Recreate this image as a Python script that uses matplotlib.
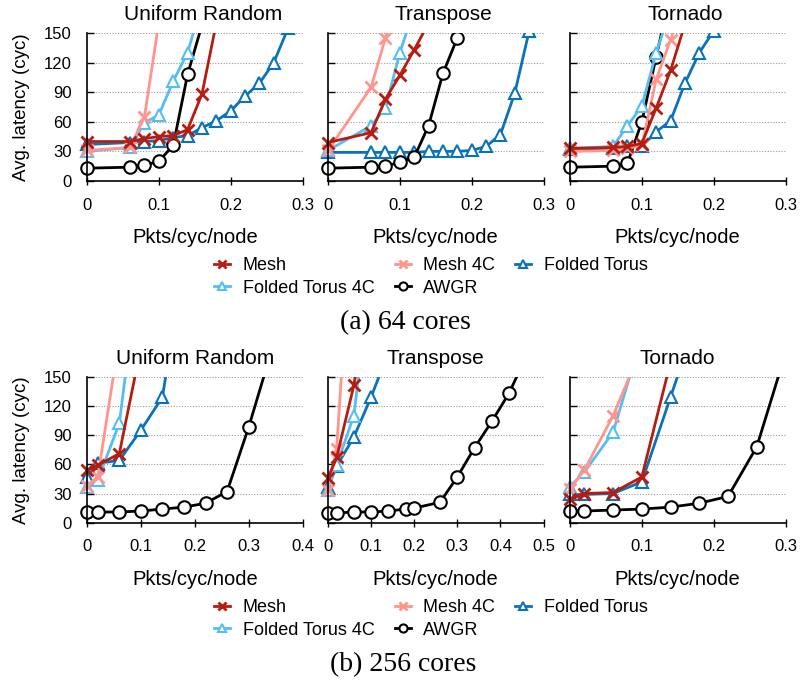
import matplotlib
matplotlib.use("Agg")
import matplotlib.pyplot as plt

plt.rcParams["font.family"] = ["Liberation Sans", "DejaVu Sans"]

SERIES = ["Mesh", "Mesh 4C", "Folded Torus", "Folded Torus 4C", "AWGR"]
PATTERNS = ["Uniform Random", "Transpose", "Tornado"]
YTICKS = [0, 30, 60, 90, 120, 150]

# ---- 64 cores ----
ur64_mesh_x = [0, 0.06, 0.08, 0.1, 0.12, 0.14, 0.16, 0.18]
ur64_mesh_y = [40, 40, 43, 45, 46, 52, 88, 160]
ur64_mesh4c_x = [0, 0.06, 0.08, 0.1]
ur64_mesh4c_y = [31, 34, 65, 161]
ur64_ft_x = [0, 0.06, 0.08, 0.1, 0.12, 0.14, 0.16, 0.18, 0.2, 0.22, 0.24, 0.26, 0.28]
ur64_ft_y = [37, 39, 40, 41, 44, 46, 54, 61, 71, 86, 99, 120, 155]
ur64_ft4c_x = [0, 0.06, 0.08, 0.1, 0.12, 0.14, 0.16]
ur64_ft4c_y = [30, 34, 59, 67, 101, 130, 180]
ur64_awgr_x = [0, 0.06, 0.08, 0.1, 0.12, 0.14, 0.16]
ur64_awgr_y = [13, 14, 16, 20, 36, 108, 158]

tr64_mesh_x = [0, 0.06, 0.08, 0.1, 0.12, 0.14]
tr64_mesh_y = [39, 49, 83, 107, 133, 160]
tr64_mesh4c_x = [0, 0.06, 0.08, 0.1]
tr64_mesh4c_y = [31, 95, 145, 200]
tr64_ft_x = [0, 0.06, 0.08, 0.1, 0.12, 0.14, 0.16, 0.18, 0.2, 0.22, 0.24, 0.26, 0.28]
tr64_ft_y = [29, 29, 29, 29, 29, 30, 30, 30, 31, 35, 47, 89, 152]
tr64_ft4c_x = [0, 0.06, 0.08, 0.1, 0.12]
tr64_ft4c_y = [31, 56, 74, 130, 174]
tr64_awgr_x = [0, 0.06, 0.08, 0.1, 0.12, 0.14, 0.16, 0.18]
tr64_awgr_y = [13, 14, 15, 19, 24, 56, 109, 145]

to64_mesh_x = [0, 0.06, 0.08, 0.1, 0.12, 0.14, 0.16]
to64_mesh_y = [33, 34, 35, 38, 74, 112, 159]
to64_mesh4c_x = [0, 0.06, 0.08, 0.1, 0.12, 0.14, 0.16]
to64_mesh4c_y = [30, 31, 33, 36, 103, 143, 185]
to64_ft_x = [0, 0.06, 0.08, 0.1, 0.12, 0.14, 0.16, 0.18, 0.2]
to64_ft_y = [32, 33, 35, 35, 50, 61, 99, 130, 152]
to64_ft4c_x = [0, 0.06, 0.08, 0.1, 0.12, 0.14]
to64_ft4c_y = [33, 35, 56, 76, 130, 174]
to64_awgr_x = [0, 0.06, 0.08, 0.1, 0.12, 0.14]
to64_awgr_y = [14, 15, 18, 60, 126, 190]

# ---- 256 cores ----
ur256_mesh_x = [0, 0.02, 0.06, 0.1]
ur256_mesh_y = [54, 59, 71, 180]
ur256_mesh4c_x = [0, 0.02, 0.06]
ur256_mesh4c_y = [38, 47, 190]
ur256_ft_x = [0, 0.02, 0.06, 0.1, 0.14, 0.16]
ur256_ft_y = [47, 61, 64, 95, 129, 199]
ur256_ft4c_x = [0, 0.02, 0.06, 0.08]
ur256_ft4c_y = [37, 44, 102, 190]
ur256_awgr_x = [0, 0.02, 0.06, 0.1, 0.14, 0.18, 0.22, 0.26, 0.3, 0.34]
ur256_awgr_y = [11, 11, 11, 12, 14, 16, 20, 32, 98, 172]

tr256_mesh_x = [0, 0.02, 0.06, 0.08]
tr256_mesh_y = [46, 67, 141, 200]
tr256_mesh4c_x = [0, 0.02, 0.04]
tr256_mesh4c_y = [34, 76, 210]
tr256_ft_x = [0, 0.02, 0.06, 0.1, 0.14]
tr256_ft_y = [37, 58, 88, 129, 175]
tr256_ft4c_x = [0, 0.02, 0.06, 0.08]
tr256_ft4c_y = [34, 59, 110, 185]
tr256_awgr_x = [0, 0.02, 0.06, 0.1, 0.14, 0.18, 0.2, 0.26, 0.3, 0.34, 0.38, 0.42, 0.46]
tr256_awgr_y = [10, 10, 11, 11, 12, 14, 15, 21, 47, 77, 104, 133, 171]

to256_mesh_x = [0, 0.02, 0.06, 0.1, 0.14]
to256_mesh_y = [24, 30, 31, 47, 165]
to256_mesh4c_x = [0, 0.02, 0.06, 0.1]
to256_mesh4c_y = [35, 54, 110, 180]
to256_ft_x = [0, 0.02, 0.06, 0.1, 0.14, 0.16]
to256_ft_y = [29, 29, 30, 42, 129, 173]
to256_ft4c_x = [0, 0.02, 0.06, 0.1]
to256_ft4c_y = [37, 52, 93, 192]
to256_awgr_x = [0, 0.02, 0.06, 0.1, 0.14, 0.18, 0.22, 0.26, 0.3]
to256_awgr_y = [12, 12, 13, 14, 16, 20, 27, 78, 174]

XMAX_64 = [0.3, 0.3, 0.3]
XMAX_256 = [0.4, 0.5, 0.3]
XTICKS_64 = [[0, 0.1, 0.2, 0.3]] * 3
XTICKS_256 = [[0, 0.1, 0.2, 0.3, 0.4], [0, 0.1, 0.2, 0.3, 0.4, 0.5], [0, 0.1, 0.2, 0.3]]

panels_64 = [
    {"Mesh": (ur64_mesh_x, ur64_mesh_y), "Mesh 4C": (ur64_mesh4c_x, ur64_mesh4c_y),
     "Folded Torus": (ur64_ft_x, ur64_ft_y), "Folded Torus 4C": (ur64_ft4c_x, ur64_ft4c_y),
     "AWGR": (ur64_awgr_x, ur64_awgr_y)},
    {"Mesh": (tr64_mesh_x, tr64_mesh_y), "Mesh 4C": (tr64_mesh4c_x, tr64_mesh4c_y),
     "Folded Torus": (tr64_ft_x, tr64_ft_y), "Folded Torus 4C": (tr64_ft4c_x, tr64_ft4c_y),
     "AWGR": (tr64_awgr_x, tr64_awgr_y)},
    {"Mesh": (to64_mesh_x, to64_mesh_y), "Mesh 4C": (to64_mesh4c_x, to64_mesh4c_y),
     "Folded Torus": (to64_ft_x, to64_ft_y), "Folded Torus 4C": (to64_ft4c_x, to64_ft4c_y),
     "AWGR": (to64_awgr_x, to64_awgr_y)},
]
panels_256 = [
    {"Mesh": (ur256_mesh_x, ur256_mesh_y), "Mesh 4C": (ur256_mesh4c_x, ur256_mesh4c_y),
     "Folded Torus": (ur256_ft_x, ur256_ft_y), "Folded Torus 4C": (ur256_ft4c_x, ur256_ft4c_y),
     "AWGR": (ur256_awgr_x, ur256_awgr_y)},
    {"Mesh": (tr256_mesh_x, tr256_mesh_y), "Mesh 4C": (tr256_mesh4c_x, tr256_mesh4c_y),
     "Folded Torus": (tr256_ft_x, tr256_ft_y), "Folded Torus 4C": (tr256_ft4c_x, tr256_ft4c_y),
     "AWGR": (tr256_awgr_x, tr256_awgr_y)},
    {"Mesh": (to256_mesh_x, to256_mesh_y), "Mesh 4C": (to256_mesh4c_x, to256_mesh4c_y),
     "Folded Torus": (to256_ft_x, to256_ft_y), "Folded Torus 4C": (to256_ft4c_x, to256_ft4c_y),
     "AWGR": (to256_awgr_x, to256_awgr_y)},
]

STYLES = {
    "Folded Torus": dict(color="#0A72BA", marker="^", mfc="white", ms=8, mew=1.5),
    "AWGR": dict(color="black", marker="o", mfc="white", ms=9, mew=1.5),
    "Folded Torus 4C": dict(color="#55BDF5", marker="^", mfc="white", ms=8, mew=1.5),
    "Mesh 4C": dict(color="#FF958C", marker="x", ms=8, mew=2),
    "Mesh": dict(color="#B71C10", marker="x", ms=8, mew=2),
}
DRAW_ORDER = ["Folded Torus", "AWGR", "Folded Torus 4C", "Mesh 4C", "Mesh"]
LEGEND_ORDER = ["Mesh", "Folded Torus 4C", "Mesh 4C", "AWGR", "Folded Torus"]

W, H = 800, 684
fig = plt.figure(figsize=(W / 100, H / 100), dpi=100)

ZERO_PX = [87, 328, 570]
SPAN_PX = 215.5
PAD_PX = 9


def draw_row(panels, xmaxes, xticks, top_px, bottom_px, title_shift):
    handles = {}
    for i, panel in enumerate(panels):
        xmax = xmaxes[i]
        left_px = ZERO_PX[i] - PAD_PX
        width_px = SPAN_PX + PAD_PX
        h_px = bottom_px - top_px
        ax = fig.add_axes([left_px / W, 1 - bottom_px / H, width_px / W, h_px / H])
        xpad = xmax * PAD_PX / SPAN_PX
        ax.set_xlim(-xpad, xmax)
        ax.set_ylim(0, 150)
        ax.hlines(YTICKS[1:], 0, xmax, colors="#9a9a9a", linestyles=(0, (1, 1.5)), linewidth=0.8, zorder=0)
        for name in DRAW_ORDER:
            xs, ys = panel[name]
            ln, = ax.plot(xs, ys, lw=2, label=name, **STYLES[name])
            handles[name] = ln
        for s in ["top", "right"]:
            ax.spines[s].set_visible(False)
        ax.spines["left"].set_position(("data", 0))
        ax.spines["bottom"].set_bounds(0, xmax)
        ax.spines["left"].set_linewidth(1.2)
        ax.spines["bottom"].set_linewidth(1.2)
        ax.set_xticks(xticks[i])
        ax.set_xticklabels(["0" if t == 0 else ("%g" % t) for t in xticks[i]])
        ax.set_yticks(YTICKS)
        ax.tick_params(axis="x", direction="inout", length=6, width=1, pad=9, labelsize=12)
        ax.tick_params(axis="y", direction="in", length=5, width=1, pad=11, labelsize=12)
        if i > 0:
            ax.set_yticklabels([])
        else:
            ax.set_ylabel("Avg. latency (cyc)", fontsize=13.5)
            ax.yaxis.set_label_coords(-0.215, 0.5)
        ax.set_xlabel("Pkts/cyc/node", fontsize=14.5)
        cx = (PAD_PX + SPAN_PX / 2) / width_px
        ax.xaxis.set_label_coords(cx, -47 / h_px)
        ax.text(cx + title_shift / width_px, 1 + 18 / h_px, PATTERNS[i],
                transform=ax.transAxes, ha="center", va="center", fontsize=15)
    return handles


h = draw_row(panels_64, XMAX_64, XTICKS_64, 33, 181, 8)
draw_row(panels_256, XMAX_256, XTICKS_256, 376.7, 522.7, 0)

for cy in [277, 619]:
    fig.legend([h[n] for n in LEGEND_ORDER], LEGEND_ORDER, loc="center",
               bbox_to_anchor=(431 / W, 1 - cy / H), ncol=3, frameon=False, fontsize=13,
               handlelength=0.9, handletextpad=0.7, columnspacing=1.1, labelspacing=0.3,
               markerscale=0.65)

fig.text(405 / W, 1 - 323 / H, "(a) 64 cores", ha="center", va="center",
         fontsize=20, family="Liberation Serif")
fig.text(403 / W, 1 - 665 / H, "(b) 256 cores", ha="center", va="center",
         fontsize=20, family="Liberation Serif")

fig.savefig("out.png", dpi=100)
